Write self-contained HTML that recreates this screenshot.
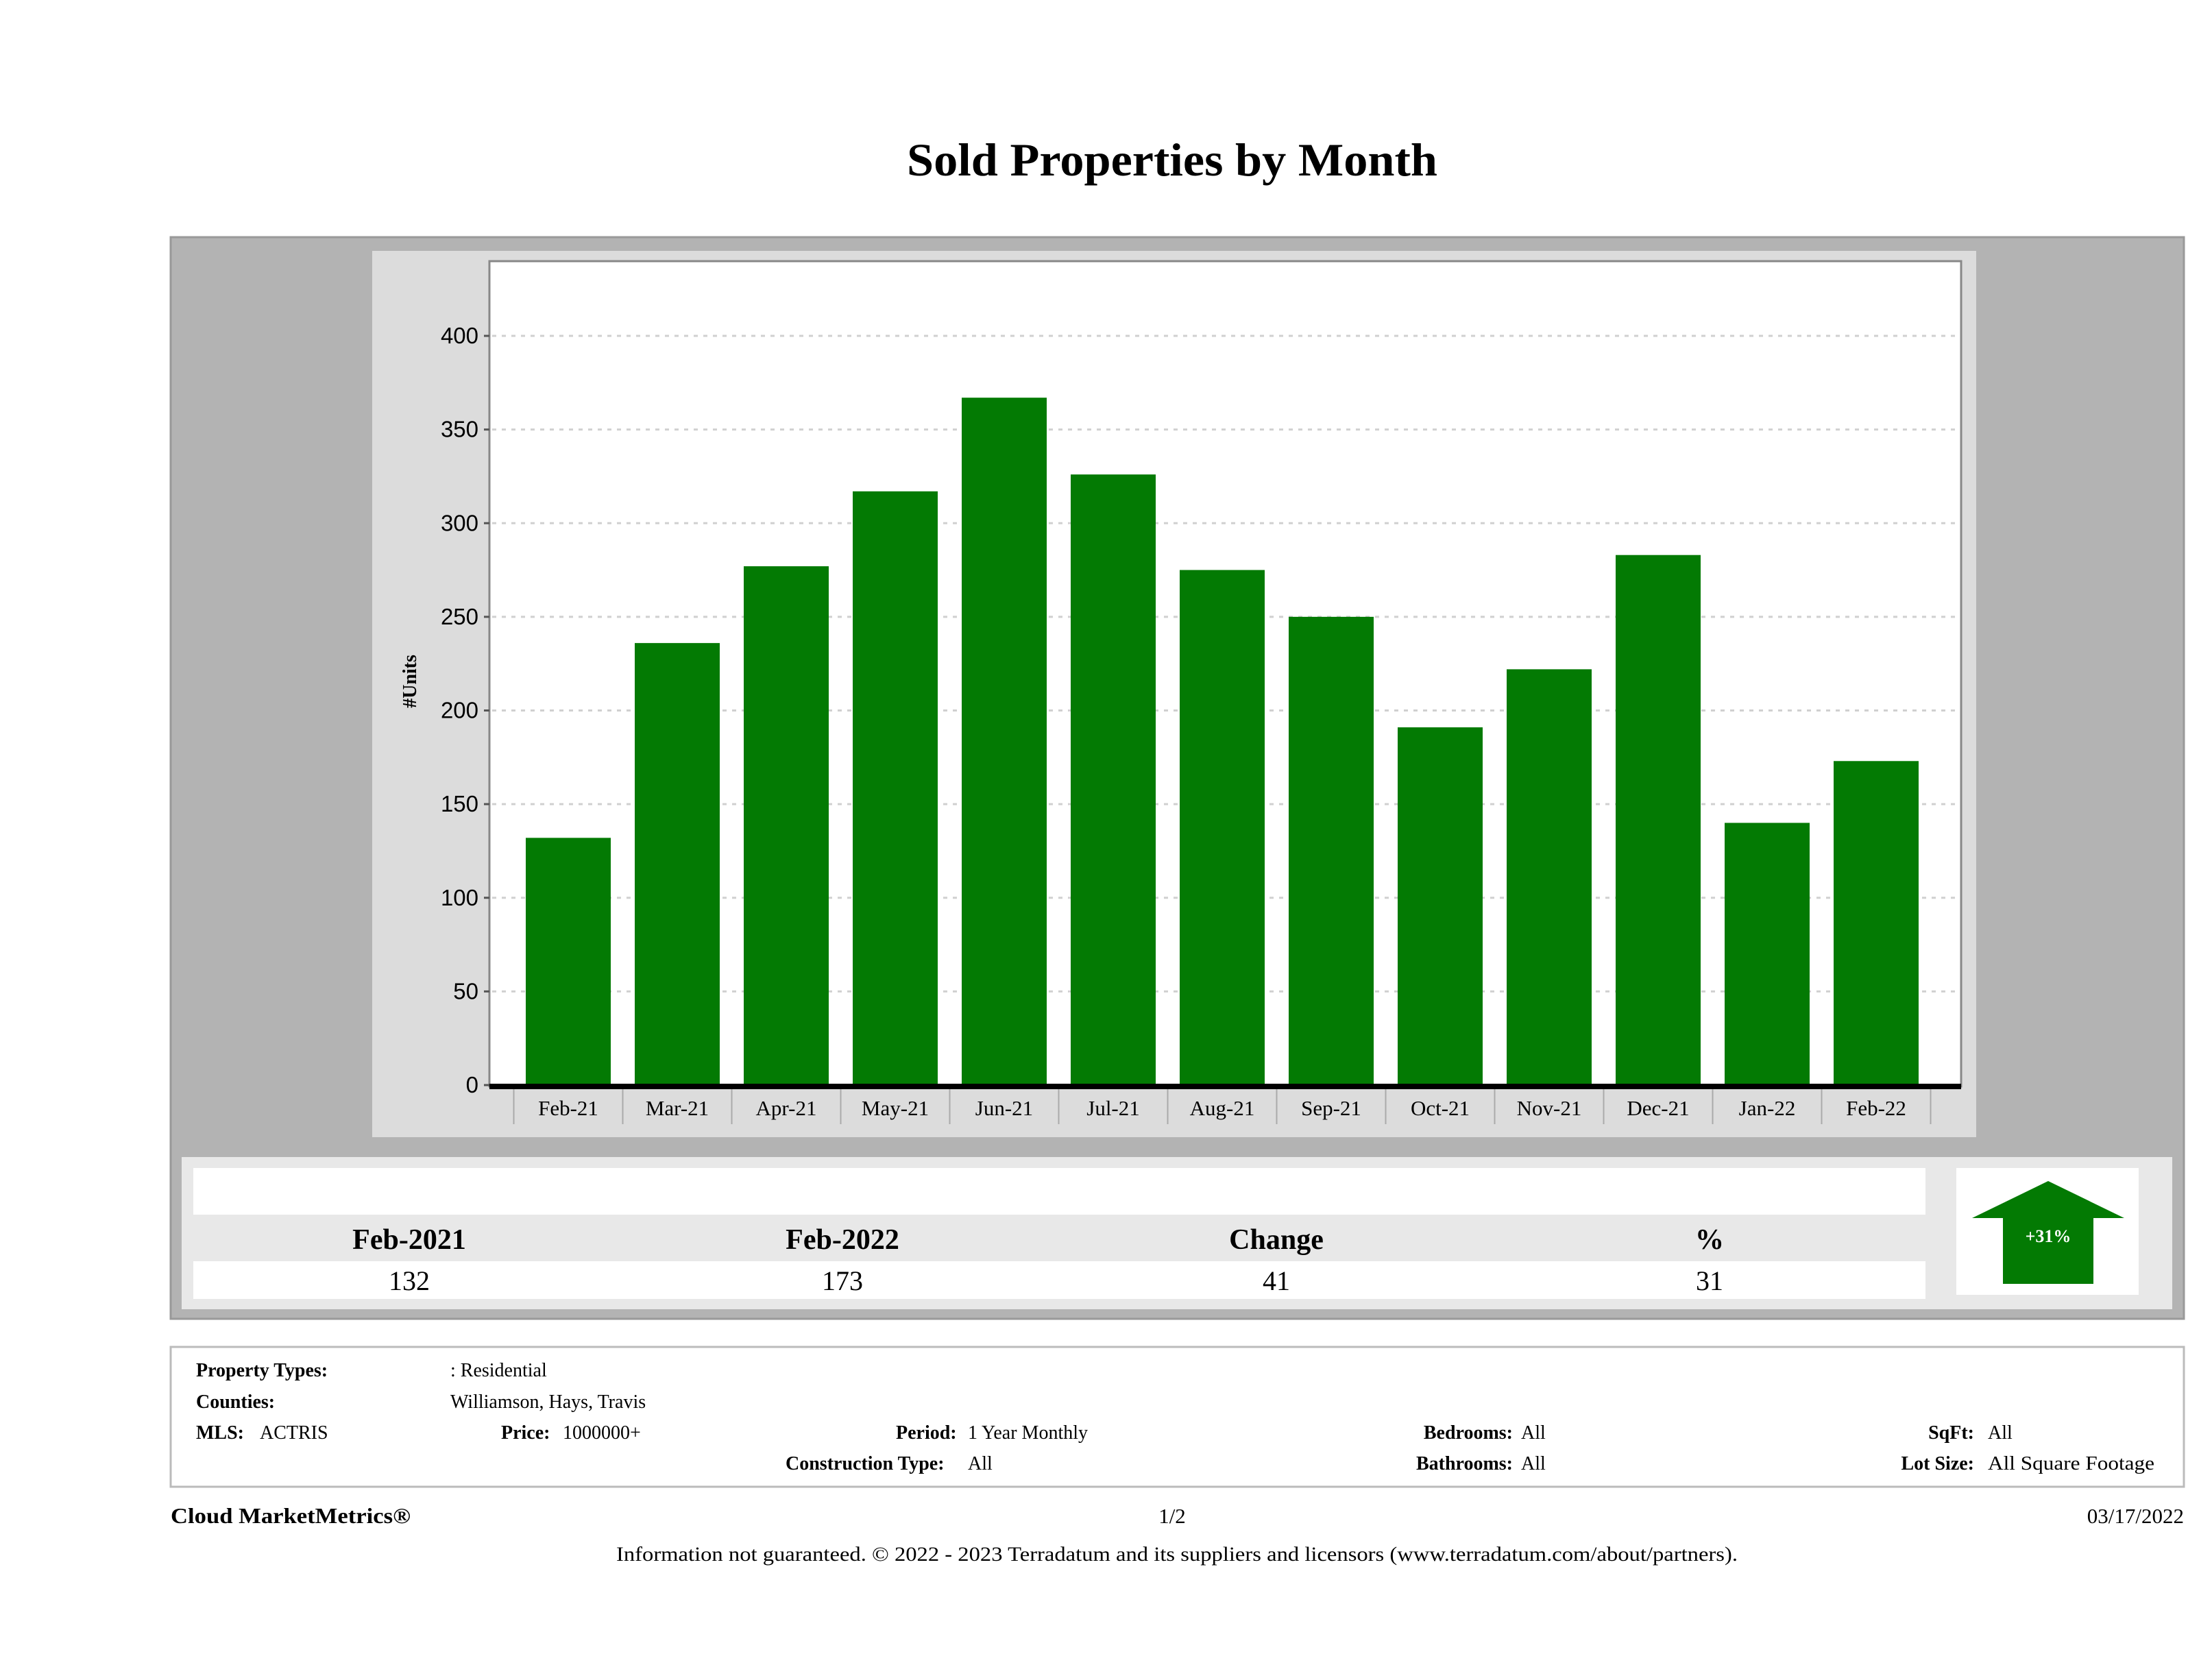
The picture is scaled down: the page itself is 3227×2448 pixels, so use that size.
<!DOCTYPE html>
<html><head><meta charset="utf-8"><style>
html,body{margin:0;padding:0;background:#fff;}
svg{display:block;}
text{font-family:"Liberation Serif",serif;}
</style></head><body>
<svg id="chart" width="3227" height="2448" viewBox="0 0 3227 2448" xmlns="http://www.w3.org/2000/svg">
<text x="1710" y="256" text-anchor="middle" font-size="68" font-weight="bold" fill="#000" textLength="774" lengthAdjust="spacingAndGlyphs">Sold Properties by Month</text>
<rect x="249" y="346" width="2937" height="1578" fill="#b3b3b3" stroke="#999" stroke-width="3"/>
<rect x="543" y="366" width="2340" height="1293" fill="#dcdcdc"/>
<rect x="714" y="381" width="2147" height="1204" fill="#fff" stroke="#888" stroke-width="3"/>
<g id="grid"></g>
<g id="bars"></g>
<g id="xaxis"></g>
<g id="yaxis"></g>
<text x="0" y="0" transform="translate(607,994) rotate(-90)" text-anchor="middle" font-size="28" font-weight="bold">#Units</text>

<rect x="265" y="1688" width="2904" height="222" fill="#e8e8e8"/>
<rect x="282" y="1704" width="2527" height="68" fill="#fff"/>
<rect x="282" y="1840" width="2527" height="55" fill="#fff"/>
<g font-size="42" font-weight="bold" text-anchor="middle">
<text x="597" y="1822">Feb-2021</text>
<text x="1229" y="1822">Feb-2022</text>
<text x="1862" y="1822">Change</text>
<text x="2494" y="1822">%</text>
</g>
<g font-size="40" text-anchor="middle">
<text x="597" y="1882">132</text>
<text x="1229" y="1882">173</text>
<text x="1862" y="1882">41</text>
<text x="2494" y="1882">31</text>
</g>
<rect x="2854" y="1704" width="266" height="185" fill="#fff"/>
<path d="M2988 1723 L3099 1777 L3054 1777 L3054 1873 L2922 1873 L2922 1777 L2877 1777 Z" fill="#037a03"/>
<text x="2988" y="1812" text-anchor="middle" font-size="26" font-weight="bold" fill="#fff">+31%</text>

<rect x="249" y="1965" width="2937" height="204" fill="#fff" stroke="#bbb" stroke-width="3"/>
<g font-size="28">
<text x="286" y="2008" font-weight="bold">Property Types:</text>
<text x="657" y="2008">: Residential</text>
<text x="286" y="2054" font-weight="bold">Counties:</text>
<text x="657" y="2054">Williamson, Hays, Travis</text>
<text x="286" y="2099" font-weight="bold">MLS:</text>
<text x="379" y="2099">ACTRIS</text>
<text x="731" y="2099" font-weight="bold">Price:</text>
<text x="821" y="2099">1000000+</text>
<text x="1307" y="2099" font-weight="bold">Period:</text>
<text x="1412" y="2099">1 Year Monthly</text>
<text x="1146" y="2144" font-weight="bold">Construction Type:</text>
<text x="1412" y="2144">All</text>
<text x="2207" y="2099" font-weight="bold" text-anchor="end">Bedrooms:</text>
<text x="2219" y="2099">All</text>
<text x="2207" y="2144" font-weight="bold" text-anchor="end">Bathrooms:</text>
<text x="2219" y="2144">All</text>
<text x="2880" y="2099" font-weight="bold" text-anchor="end">SqFt:</text>
<text x="2900" y="2099">All</text>
<text x="2880" y="2144" font-weight="bold" text-anchor="end">Lot Size:</text>
<text x="2900" y="2144" textLength="243" lengthAdjust="spacingAndGlyphs">All Square Footage</text>
</g>
<text x="249" y="2222" font-size="32" font-weight="bold" textLength="350" lengthAdjust="spacingAndGlyphs">Cloud MarketMetrics®</text>
<text x="1710" y="2222" font-size="31" text-anchor="middle">1/2</text>
<text x="3186" y="2222" font-size="31" text-anchor="end">03/17/2022</text>
<text x="899" y="2277" font-size="30" textLength="1636" lengthAdjust="spacingAndGlyphs">Information not guaranteed. © 2022 - 2023 Terradatum and its suppliers and licensors (www.terradatum.com/about/partners).</text>
</svg>
<script>
const categories = ["Feb-21","Mar-21","Apr-21","May-21","Jun-21","Jul-21","Aug-21","Sep-21","Oct-21","Nov-21","Dec-21","Jan-22","Feb-22"];
const soldUnits = [132,236,277,317,367,326,275,250,191,222,283,140,173];
const yTicks = [0,50,100,150,200,250,300,350,400];

const NS = "http://www.w3.org/2000/svg";
const plotLeft = 714, plotRight = 2861, y0 = 1583, unitPx = 2.7325;
const firstCenter = 829, step = 159, barW = 124;
function yScale(v){ return y0 - v*unitPx; }
function xScale(i){ return firstCenter + i*step; }
function mk(tag, attrs){ const e=document.createElementNS(NS,tag); for(const k in attrs) e.setAttribute(k, attrs[k]); return e; }

const grid = document.getElementById('grid');
const yaxis = document.getElementById('yaxis');
yTicks.forEach(t => {
  const y = yScale(t);
  if (t > 0) {
    const g = mk('line',{x1:plotLeft+4,x2:plotRight-4,y1:y,y2:y,stroke:'#d0d0d0','stroke-width':3,'stroke-dasharray':'6 8'});
    
    
    grid.appendChild(g);
  }
  const tk = mk('line',{x1:plotLeft-8,x2:plotLeft,y1:y,y2:y,stroke:'#555','stroke-width':3});
  
  
  yaxis.appendChild(tk);
  const lb = mk('text',{x:plotLeft-16,y:y+11,'text-anchor':'end','font-size':33});
  
  
  lb.style.fontFamily = '"Liberation Sans", sans-serif';
  lb.textContent = t;
  yaxis.appendChild(lb);
});

const bars = document.getElementById('bars');
soldUnits.forEach((v,i) => {
  const r = mk('rect',{x:xScale(i)-barW/2,y:yScale(v),width:barW,height:y0-yScale(v),fill:'#037a03'});
  
  
  bars.appendChild(r);
});

const xaxis = document.getElementById('xaxis');
const axisLine = mk('rect',{x:plotLeft,y:y0-2,width:plotRight-plotLeft,height:8,fill:'#000'});


xaxis.appendChild(axisLine);
for (let i=0;i<=categories.length;i++){
  const x = xScale(i) - step/2;
  const s = mk('line',{x1:x,x2:x,y1:y0+6,y2:1640,stroke:'#aaa','stroke-width':2});
  
  
  xaxis.appendChild(s);
}
categories.forEach((c,i) => {
  const t = mk('text',{x:xScale(i),y:1627,'text-anchor':'middle','font-size':31});
  
  
  t.textContent = c;
  xaxis.appendChild(t);
});
</script>
</body></html>
